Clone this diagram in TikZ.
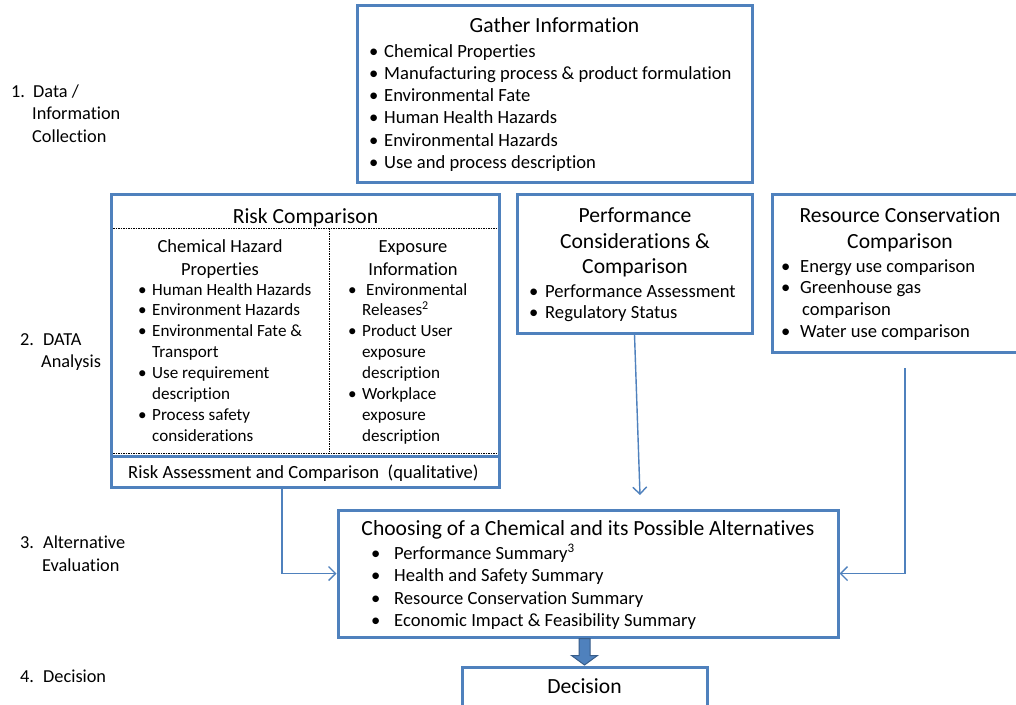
\documentclass[tikz,border=0pt]{standalone}
\usepackage{fontspec}
\setmainfont[Ligatures={NoCommon},RawFeature={-liga;-calt}]{Carlito}
\usetikzlibrary{arrows.meta,calc}
\definecolor{obl}{HTML}{4F81BD}
\definecolor{obld}{HTML}{385D8A}
\newcommand\fsz[1]{\fontsize{#1}{#1}\selectfont}
\newcommand\bi[2]{\makebox[#1][l]{\textbullet}#2}
\begin{document}
\begin{tikzpicture}[x=1pt,y=-1pt,
  box/.style={draw=obl, line width=3pt, inner sep=0pt},
  conn/.style={draw=obl, line width=1.4pt, -{Straight Barb[length=7pt,width=14pt]}},
  tx/.style={anchor=base west, inner sep=0pt},
  txc/.style={anchor=base, inner sep=0pt},
  fT/.style={font=\fsz{21.6}},
  fB/.style={font=\fsz{18.6}},
  fS/.style={font=\fsz{17.1}},
  fH/.style={font=\fsz{18.5}},
  fL/.style={font=\fsz{18.3}},
  dsh/.style={draw=black, line width=0.8pt, dash pattern=on 1.5pt off 1pt},
  fat/.style={fill=obl, draw=obld, line width=1pt}
]
\useasboundingbox (0,0) rectangle (1016,704);
\fill[white] (0,0) rectangle (1016,704);

% boxes
\node[box, minimum width=395pt, minimum height=177pt] (gather) at (554.5,93.5) {};
\node[box, minimum width=388pt, minimum height=293pt] (risk) at (305,340.5) {};
\node[box, minimum width=388pt, minimum height=31pt] (assess) at (305,471.5) {};
\node[box, minimum width=235pt, minimum height=139pt] (perf) at (634.5,263.5) {};
\node[box, minimum width=258pt, minimum height=158pt] (res) at (901,273) {};
\node[box, minimum width=500pt, minimum height=127pt] (choose) at (588,573.5) {};
\node[box, minimum width=245pt, minimum height=50pt] (dec) at (584.5,692) {};

% dashed partitions in risk box
\draw[dsh] (113,228) -- (497,228);
\draw[dsh] (329,228) -- (329,453);
\draw[dsh] (113,453) -- (497,453);

% connectors
\draw[conn] ([xshift=-23pt]risk.south) |- (choose.west);
\coordinate (pend) at (640,495);
\draw[conn] (perf.south) -- (pend);
\coordinate (rstart) at (905,368);
\draw[conn] (rstart) |- (choose.east);

% fat arrow
\coordinate (fa) at (dec.north |- choose.south);
\filldraw[fat] ($(fa)+(-5.5,0)$) -- ($(fa)+(-5.5,17)$) -- ($(fa)+(-13,17)$) -- ($(dec.north)+(0,-0.5)$)
  -- ($(fa)+(13,17)$) -- ($(fa)+(5.5,17)$) -- ($(fa)+(5.5,0)$) -- cycle;

% left labels
\node[tx,fL] (l1n) at (11,97) {1.};
\node[tx,fL] (l1a) at (33,97) {Data /};
\node[tx,fL] (l1b) at (32,119.5) {Information};
\node[tx,fL] (l1c) at (32,142) {Collection};
\node[tx,fL] (l2n) at (20,345) {2.};
\node[tx,fL] (l2a) at (43,345) {DATA};
\node[tx,fL] (l2b) at (41,367) {Analysis};
\node[tx,fL] (l3n) at (20,548) {3.};
\node[tx,fL] (l3a) at (43,548) {Alternative};
\node[tx,fL] (l3b) at (42,571) {Evaluation};
\node[tx,fL] (l4n) at (20,682) {4.};
\node[tx,fL] (l4a) at (43,682) {Decision};

% gather
\node[txc,fT] (gT) at (554.5,32) {Gather Information};
\node[tx,fB] (g1) at (369,57) {\bi{15pt}{Chemical Properties}};
\node[tx,fB] (g2) at (369,79.3) {\bi{15pt}{Manufacturing process \& product formulation}};
\node[tx,fB] (g3) at (369,101.6) {\bi{15pt}{Environmental Fate}};
\node[tx,fB] (g4) at (369,123.9) {\bi{15pt}{Human Health Hazards}};
\node[tx,fB] (g5) at (369,146.2) {\bi{15pt}{Environmental Hazards}};
\node[tx,fB] (g6) at (369,168.5) {\bi{15pt}{Use and process description}};

% risk comparison
\node[txc,fT] (rT) at (305.5,223) {Risk Comparison};
\node[txc,fH] (rL1) at (220,252) {Chemical Hazard};
\node[txc,fH] (rL2) at (220,275) {Properties};
\node[tx,fS] (ra1) at (138,295) {\bi{14pt}{Human Health Hazards}};
\node[tx,fS] (ra2) at (138,315.9) {\bi{14pt}{Environment Hazards}};
\node[tx,fS] (ra3) at (138,336.7) {\bi{14pt}{Environmental Fate \&}};
\node[tx,fS] (ra4) at (152,357.6) {Transport};
\node[tx,fS] (ra5) at (138,378.4) {\bi{14pt}{Use requirement}};
\node[tx,fS] (ra6) at (152,399.3) {description};
\node[tx,fS] (ra7) at (138,420.1) {\bi{14pt}{Process safety}};
\node[tx,fS] (ra8) at (152,441) {considerations};
\node[txc,fH] (rR1) at (413,252) {Exposure};
\node[txc,fH] (rR2) at (413,275) {Information};
\node[tx,fS] (rb1) at (348,295) {\bi{18pt}{Environmental}};
\node[tx,fS] (rb2) at (362,315.9) {Releases\textsuperscript{2}};
\node[tx,fS] (rb3) at (348,336.7) {\bi{14pt}{Product User}};
\node[tx,fS] (rb4) at (362,357.6) {exposure};
\node[tx,fS] (rb5) at (362,378.4) {description};
\node[tx,fS] (rb6) at (348,399.3) {\bi{14pt}{Workplace}};
\node[tx,fS] (rb7) at (362,420.1) {exposure};
\node[tx,fS] (rb8) at (362,441) {description};
\node[tx,fB] (aT) at (128,478) {Risk Assessment and Comparison\ \ (qualitative)};

% performance
\node[txc,fT] (p1) at (635,222) {Performance};
\node[txc,fT] (p2) at (635,248) {Considerations \&};
\node[txc,fT] (p3) at (635,273) {Comparison};
\node[tx,fB] (p4) at (529,297) {\bi{16pt}{Performance Assessment}};
\node[tx,fB] (p5) at (529,318.5) {\bi{16pt}{Regulatory Status}};

% resource
\node[txc,fT] (s1) at (900,222) {Resource Conservation};
\node[txc,fT] (s2) at (900,248) {Comparison};
\node[tx,fB] (s3) at (781,272) {\bi{19pt}{Energy use comparison}};
\node[tx,fB] (s4) at (781,293.5) {\bi{19pt}{Greenhouse gas}};
\node[tx,fB] (s5) at (802,315) {comparison};
\node[tx,fB] (s6) at (781,337.5) {\bi{19pt}{Water use comparison}};

% choosing
\node[txc,fT] (c0) at (588,535) {Choosing of a Chemical and its Possible Alternatives};
\node[tx,fB] (c1) at (371,559) {\bi{23pt}{Performance Summary\textsuperscript{3}}};
\node[tx,fB] (c2) at (371,581.6) {\bi{23pt}{Health and Safety Summary}};
\node[tx,fB] (c3) at (371,604.2) {\bi{23pt}{Resource Conservation Summary}};
\node[tx,fB] (c4) at (371,626.8) {\bi{23pt}{Economic Impact \& Feasibility Summary}};

% decision
\node[txc,fT] (dT) at (584.5,693) {Decision};
\end{tikzpicture}
\end{document}
